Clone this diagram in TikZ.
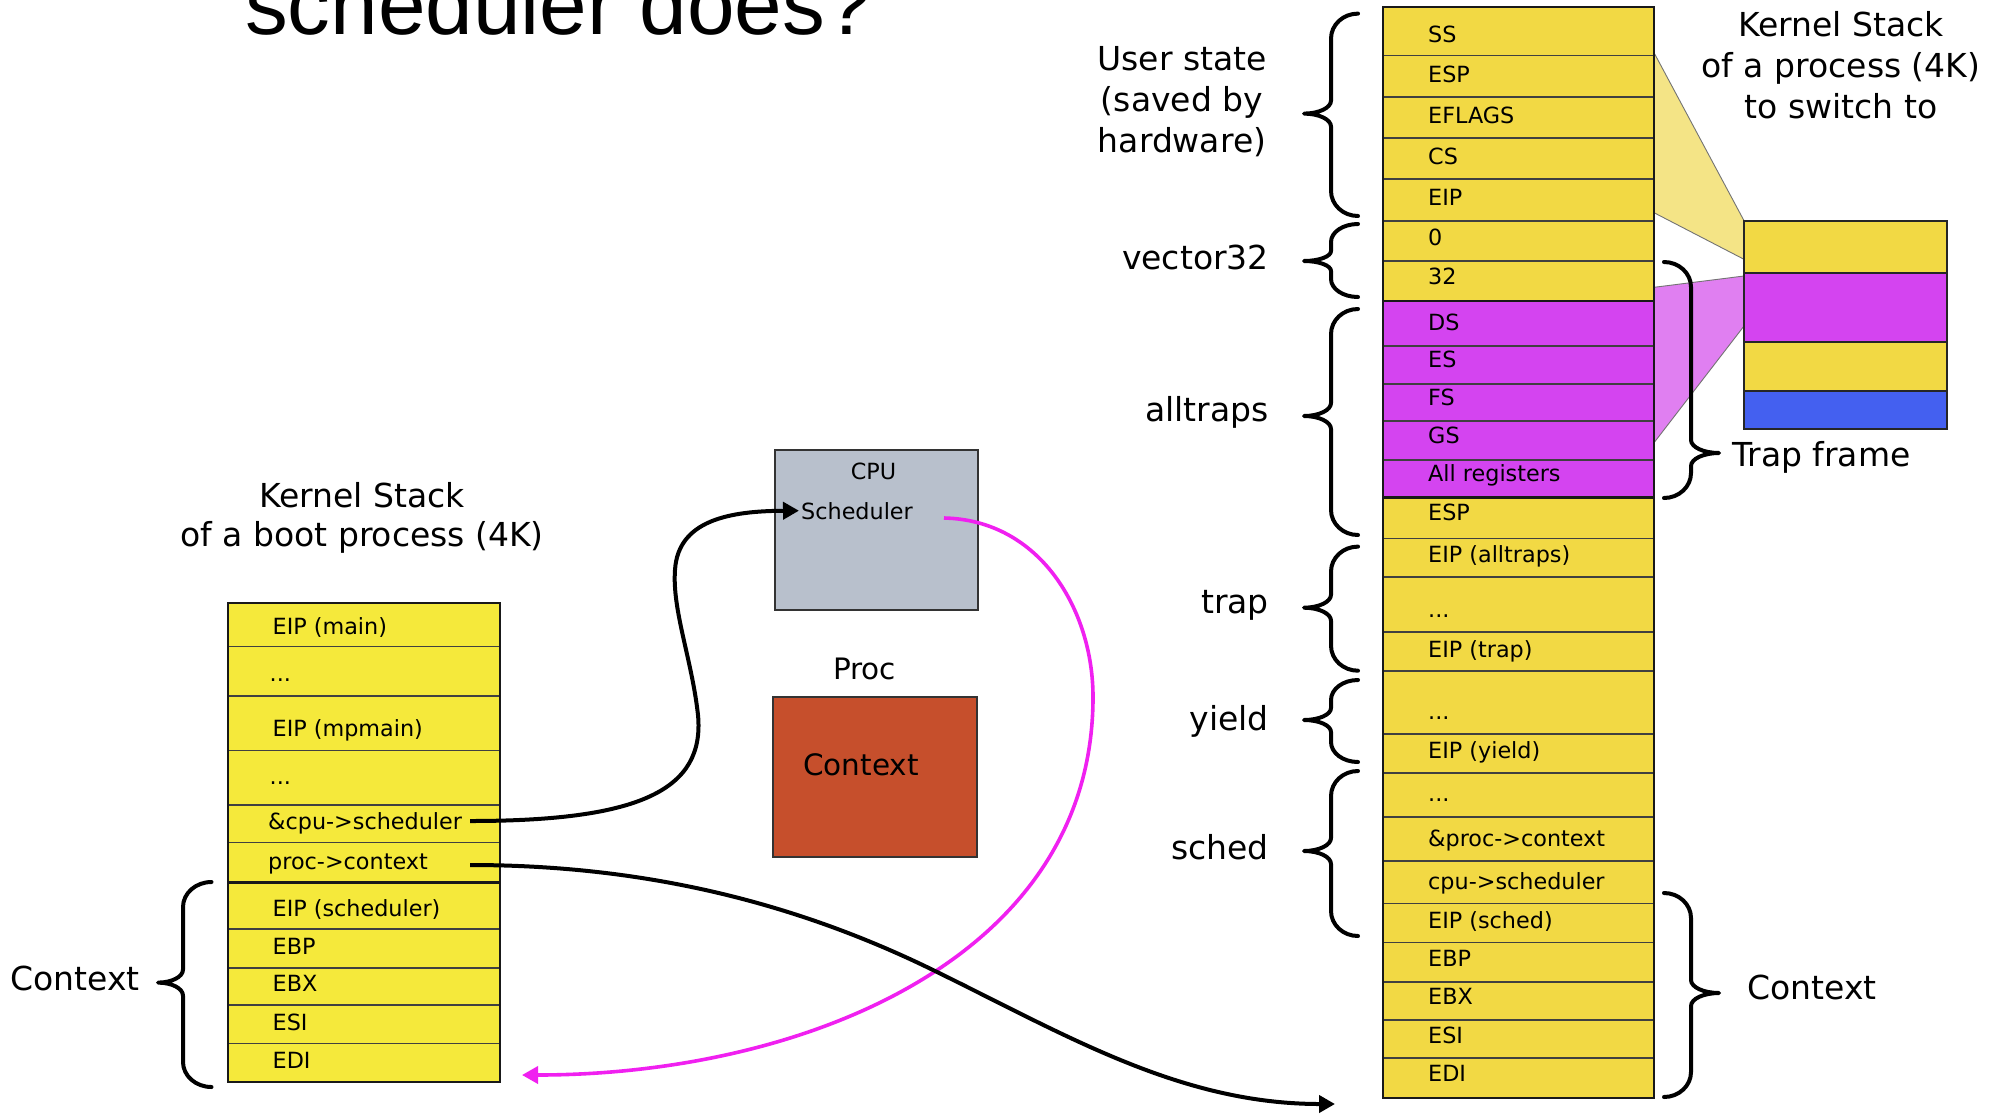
\documentclass[tikz,border=0pt]{standalone}
\usepackage{fontspec}
\setmainfont{DejaVu Sans}
\newfontfamily\titlefont{Liberation Sans}
\usetikzlibrary{arrows.meta}
\definecolor{ryel}{HTML}{F2D944}
\definecolor{lyel}{HTML}{F5E93B}
\definecolor{mag}{HTML}{D444F0}
\definecolor{lmag}{HTML}{E07FF1}
\definecolor{pyel}{HTML}{F4E486}
\definecolor{cpuc}{HTML}{B8C0CC}
\definecolor{procc}{HTML}{C64F2C}
\definecolor{blu}{HTML}{4460F0}
\definecolor{pinkc}{HTML}{F020F0}
\tikzset{
  cellR/.style={draw=black!75, line width=1.3pt, minimum width=271pt, inner sep=0pt, outer sep=0pt},
  cellL/.style={draw=black!75, line width=1.3pt, fill=lyel, minimum width=271.5pt, inner sep=0pt, outer sep=0pt},
  cellT/.style={draw=black!85, line width=2.2pt, minimum width=203pt, inner sep=0pt, outer sep=0pt},
  stxt/.style={anchor=base west, inner sep=0pt, font=\fontsize{22.3}{26}\selectfont},
  bigl/.style={inner sep=0pt, font=\fontsize{33}{40}\selectfont},
  bracestyle/.style={line width=4pt, line cap=round, line join=round},
  conn/.style={line width=4pt, draw=black},
  pconn/.style={line width=3.6pt, draw=pinkc},
}
\newcommand\mybrace[8]{% xe xv xp y1 ym y2 c t
  \draw[bracestyle] (#1,#4) .. controls ({#1-0.552*(#1-#2)},#4) and (#2,{#4+0.448*#7}) .. (#2,{#4+#7})
  -- (#2,{#5-#8}) .. controls (#2,{#5-0.448*#8}) and ({#3+0.552*(#2-#3)},#5) .. (#3,#5)
  .. controls ({#3+0.552*(#2-#3)},#5) and (#2,{#5+0.448*#8}) .. (#2,{#5+#8})
  -- (#2,{#6-#7}) .. controls (#2,{#6-0.448*#7}) and ({#1-0.552*(#1-#2)},#6) .. (#1,#6);}
\newcommand\rcell[6]{%
  \node[cellR, fill=#6, minimum height={#3-#2}] (#1) at (1518.5,{(#2+#3)/2}) {};
  \node[stxt] (#1t) at (1428,#5) {#4};}
\newcommand\lcell[6]{%
  \node[cellL, minimum height={#3-#2}] (#1) at (363.75,{(#2+#3)/2}) {};
  \node[stxt] (#1t) at (#6,#5) {#4};}
\begin{document}
\begin{tikzpicture}[x=1pt,y=-1pt]
\useasboundingbox (0,0) rectangle (2001,1114);
\clip (0,0) rectangle (2001,1114);
\fill[white] (0,0) rectangle (2001,1114);

% title
\node[anchor=base west, inner sep=0pt, font=\titlefont\fontsize{85.5}{90}\selectfont] (title) at (245,34) {scheduler does?};

% trapezoids
\fill[pyel] (1654,52.7) -- (1744,220.7) -- (1744,259.3) -- (1654,212.7) -- cycle;
\draw[black!55, line width=0.9pt] (1654,52.7) -- (1744,220.7) (1654,212.7) -- (1744,259.3);
\fill[lmag] (1654,287.3) -- (1744,276) -- (1744,326) -- (1654,442.7) -- cycle;
\draw[black!55, line width=0.9pt] (1654,287.3) -- (1744,276) (1654,442.7) -- (1744,326);

% right stack
\rcell{r1}{7}{55.4}{SS}{42}{ryel}
\rcell{r2}{55.4}{97}{ESP}{82}{ryel}
\rcell{r3}{97}{138}{EFLAGS}{123}{ryel}
\rcell{r4}{138}{179}{CS}{164}{ryel}
\rcell{r5}{179}{221}{EIP}{205}{ryel}
\rcell{r6}{221}{261}{0}{245}{ryel}
\rcell{r7}{261}{301}{32}{284}{ryel}
\rcell{r8}{301}{346}{DS}{330}{mag}
\rcell{r9}{346}{384}{ES}{367.7}{mag}
\rcell{r10}{384}{421}{FS}{405}{mag}
\rcell{r11}{421}{460}{GS}{443}{mag}
\rcell{r12}{460}{497.5}{All registers}{481}{mag}
\rcell{r13}{497.5}{538.6}{ESP}{520}{ryel}
\rcell{r14}{538.6}{577}{EIP (alltraps)}{562.6}{ryel}
\rcell{r15}{577}{632}{...}{617}{ryel}
\rcell{r16}{632}{671}{EIP (trap)}{657}{ryel}
\rcell{r17}{671}{734}{...}{719}{ryel}
\rcell{r18}{734}{773}{EIP (yield)}{758}{ryel}
\rcell{r19}{773}{817}{...}{801}{ryel}
\rcell{r20}{817}{861}{\&proc->context}{846}{ryel}
\rcell{r21}{861}{903.5}{cpu->scheduler}{889}{ryel}
\rcell{r22}{903.5}{942.6}{EIP (sched)}{928}{ryel}
\rcell{r23}{942.6}{982}{EBP}{966.6}{ryel}
\rcell{r24}{982}{1020}{EBX}{1004}{ryel}
\rcell{r25}{1020}{1058}{ESI}{1043}{ryel}
\rcell{r26}{1058}{1097.5}{EDI}{1081}{ryel}
\draw[line width=2.5pt, black!90] (r8.north west) rectangle (r12.south east);
\draw[line width=2pt, black!90] (r1.north west) rectangle (r26.south east);

% small trap frame box
\node[cellT, fill=ryel, minimum height=52.6pt] (t1) at (1845.5,247) {};
\node[cellT, fill=mag, minimum height=68.4pt] (t2) at (1845.5,307.5) {};
\node[cellT, fill=ryel, minimum height=49pt] (t3) at (1845.5,366.2) {};
\node[cellT, fill=blu, minimum height=38.3pt] (t4) at (1845.5,409.85) {};

% left stack
\lcell{l1}{603.4}{646.8}{EIP (main)}{634.3}{272.5}
\lcell{l2}{646.8}{696}{...}{681}{269.5}
\lcell{l3}{696}{750.4}{EIP (mpmain)}{736.6}{272.5}
\lcell{l4}{750.4}{805}{...}{784}{269.5}
\lcell{l5}{805}{842.8}{\&cpu->scheduler}{829}{268}
\lcell{l6}{842.8}{882}{proc->context}{869}{268}
\lcell{l7}{882}{929}{EIP (scheduler)}{916}{272.5}
\lcell{l8}{929}{968}{EBP}{954}{272.5}
\lcell{l9}{968}{1005}{EBX}{991.6}{272.5}
\lcell{l10}{1005}{1043.6}{ESI}{1030}{272.5}
\lcell{l11}{1043.6}{1082}{EDI}{1068}{272.5}
\draw[line width=3pt, black!90] (l7.north west) -- (l7.north east);
\draw[line width=2pt, black!90] (l1.north west) rectangle (l11.south east);

% CPU and Proc boxes
\node[draw=black!80, line width=2pt, fill=cpuc, minimum width=203pt, minimum height=160pt, inner sep=0pt] (cpu) at (876.5,530) {};
\node[anchor=base, inner sep=0pt, font=\fontsize{22.3}{26}\selectfont] (cput) at (873.5,479) {CPU};
\node[anchor=base west, inner sep=0pt, font=\fontsize{22.3}{26}\selectfont] (schedt) at (801,519) {Scheduler};
\node[anchor=base, inner sep=0pt, font=\fontsize{29.5}{34}\selectfont] (proct) at (864.5,679.5) {Proc};
\node[draw=black!80, line width=2pt, fill=procc, minimum width=204pt, minimum height=160pt, inner sep=0pt] (proc) at (875,777) {};
\node[anchor=base west, inner sep=0pt, font=\fontsize{29.5}{34}\selectfont] (proccx) at (803,775.5) {Context};

% labels
\node[bigl, anchor=base] (us1) at (1182,70) {User state};
\node[bigl, anchor=base] (us2) at (1182,111) {(saved by};
\node[bigl, anchor=base] (us3) at (1182,152) {hardware)};
\node[bigl, anchor=base east] (v32) at (1269,269) {vector32};
\node[bigl, anchor=base east] (allt) at (1269,421) {alltraps};
\node[bigl, anchor=base east] (trp) at (1269,613) {trap};
\node[bigl, anchor=base east] (yld) at (1269,730) {yield};
\node[bigl, anchor=base east] (sch) at (1269,859) {sched};
\node[bigl, anchor=base] (ks1) at (1841,36) {Kernel Stack};
\node[bigl, anchor=base] (ks2) at (1841,77) {of a process (4K)};
\node[bigl, anchor=base] (ks3) at (1841,118) {to switch to};
\node[bigl, anchor=base west] (tf) at (1732,466) {Trap frame};
\node[bigl, anchor=base west] (cxr) at (1747,999) {Context};
\node[bigl, anchor=base west] (cxl) at (10,990.5) {Context};
\node[bigl, anchor=base] (kb1) at (362,507) {Kernel Stack};
\node[bigl, anchor=base] (kb2) at (362,546.5) {of a boot process (4K)};

% braces
\mybrace{1358}{1331}{1304}{13.6}{113.6}{216}{25}{13}
\mybrace{1358}{1331}{1304}{224}{261}{297}{18}{10}
\mybrace{1358}{1331}{1304}{309}{416}{535}{25}{13}
\mybrace{1358}{1331}{1304}{546.6}{607.7}{670.7}{25}{13}
\mybrace{1358}{1331}{1304}{680}{720}{762}{20}{12}
\mybrace{1358}{1331}{1304}{771}{851}{936}{25}{13}
\mybrace{1664}{1691}{1719}{262}{453}{498}{25}{13}
\mybrace{1664}{1691}{1719}{893}{993}{1097}{25}{13}
\mybrace{211.5}{183}{158}{882}{982.6}{1087}{25}{13}

% connectors
\coordinate (c1s) at (470,821);
\coordinate (c2s) at (470,865);
\coordinate (c2e) at (1335,1104);
\coordinate (m1s) at (944,518);
\coordinate (m1e) at (522,1075);
\draw[pconn, -{Triangle[length=16pt,width=17pt]}] (m1s) .. controls (1040,520) and (1093,610) .. (1093,697)
  .. controls (1093,960) and (800,1075) .. (m1e);
\draw[conn, -{Triangle[length=16pt,width=17pt]}] (c1s) .. controls (640,821) and (705,790) .. (698,715)
  .. controls (692,660) and (672,610) .. (675,570)
  .. controls (678,520) and (730,511) .. ([xshift=-2pt]schedt.west);
\draw[conn, -{Triangle[length=16pt,width=17pt]}] (c2s) .. controls (650,865) and (800,905) .. (933,970)
  .. controls (1066,1035) and (1180,1104) .. (c2e);
\end{tikzpicture}
\end{document}
